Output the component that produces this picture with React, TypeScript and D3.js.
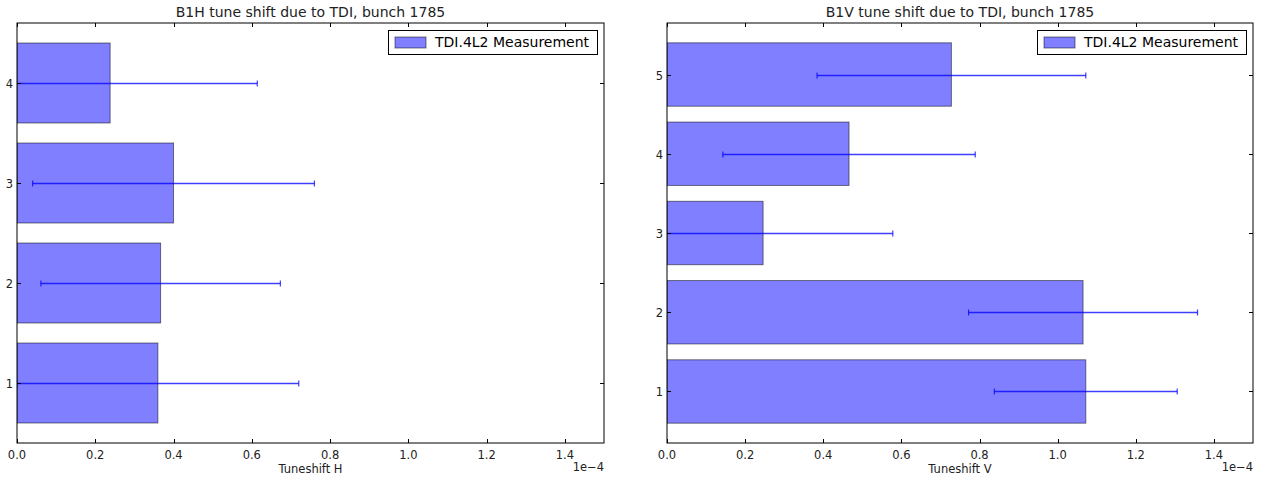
import React, { useEffect, useRef } from 'react'
import * as d3 from 'd3'

// values in units of 1e-4
const hBunches = [1, 2, 3, 4]
const hValues = [0.36, 0.367, 0.40, 0.238]
const hErrors = [0.36, 0.306, 0.36, 0.376]

const vBunches = [1, 2, 3, 4, 5]
const vValues = [1.072, 1.065, 0.246, 0.466, 0.728]
const vErrors = [0.234, 0.293, 0.332, 0.323, 0.344]

const xTicks = [0, 0.2, 0.4, 0.6, 0.8, 1.0, 1.2, 1.4]

const panels = [
  { title: 'B1H tune shift due to TDI, bunch 1785', xlabel: 'Tuneshift H', bunches: hBunches, values: hValues, errors: hErrors, left: 17, right: 604, ydom: [0.4, 4.6] },
  { title: 'B1V tune shift due to TDI, bunch 1785', xlabel: 'Tuneshift V', bunches: vBunches, values: vValues, errors: vErrors, left: 667, right: 1253, ydom: [0.35, 5.65] },
]

const FONT = 'DejaVu Sans, sans-serif'

export default function App() {
  const ref = useRef<SVGSVGElement>(null)

  useEffect(() => {
    const svg = d3.select(ref.current)
    svg.selectAll('*').remove()
    const top = 23
    const bottom = 443

    panels.forEach((p, pi) => {
      const x = d3.scaleLinear().domain([0, 1.5]).range([p.left, p.right])
      const y = d3.scaleLinear().domain(p.ydom).range([bottom, top])
      const g = svg.append('g')
      const clipId = 'clip' + pi
      g.append('clipPath').attr('id', clipId).append('rect')
        .attr('x', p.left).attr('y', top).attr('width', p.right - p.left).attr('height', bottom - top)

      const plot = g.append('g').attr('clip-path', `url(#${clipId})`)

      // bars
      plot.selectAll('rect.bar')
        .data(p.bunches)
        .join('rect')
        .attr('class', 'bar')
        .attr('x', x(0))
        .attr('y', (d) => y(d + 0.4))
        .attr('width', (d, i) => x(p.values[i]) - x(0))
        .attr('height', (d) => y(d - 0.4) - y(d + 0.4))
        .attr('fill', '#0000ff')
        .attr('fill-opacity', 0.5)
        .attr('stroke', '#000')
        .attr('stroke-opacity', 0.5)
        .attr('stroke-width', 1)

      // error bars
      p.bunches.forEach((b, i) => {
        const lo = p.values[i] - p.errors[i]
        const hi = p.values[i] + p.errors[i]
        const cy = Math.round(y(b)) + 0.5
        plot.append('line')
          .attr('x1', x(lo)).attr('x2', x(hi)).attr('y1', cy).attr('y2', cy)
          .attr('stroke', '#0000ff').attr('stroke-opacity', 0.75).attr('stroke-width', 1.4)
        ;[lo, hi].forEach((v) => {
          plot.append('line')
            .attr('x1', x(v)).attr('x2', x(v)).attr('y1', cy - 3).attr('y2', cy + 3)
            .attr('stroke', '#0000ff').attr('stroke-opacity', 0.75).attr('stroke-width', 1.2)
        })
      })

      // frame
      g.append('rect')
        .attr('x', p.left).attr('y', top).attr('width', p.right - p.left).attr('height', bottom - top)
        .attr('fill', 'none').attr('stroke', '#000').attr('stroke-width', 1)

      // x ticks (inward, top and bottom)
      xTicks.forEach((t) => {
        const tx = Math.round(x(t)) + 0.5
        g.append('line').attr('x1', tx).attr('x2', tx).attr('y1', bottom).attr('y2', bottom - 4).attr('stroke', '#000')
        g.append('line').attr('x1', tx).attr('x2', tx).attr('y1', top).attr('y2', top + 4).attr('stroke', '#000')
        g.append('text')
          .attr('x', x(t)).attr('y', bottom + 16)
          .attr('text-anchor', 'middle')
          .attr('font-family', FONT).attr('font-size', 11.5).attr('fill', '#222')
          .text(d3.format('.1f')(t))
      })

      // y ticks
      p.bunches.forEach((b) => {
        const ty = Math.round(y(b)) + 0.5
        g.append('line').attr('x1', p.left).attr('x2', p.left + 4).attr('y1', ty).attr('y2', ty).attr('stroke', '#000')
        g.append('line').attr('x1', p.right).attr('x2', p.right - 4).attr('y1', ty).attr('y2', ty).attr('stroke', '#000')
        g.append('text')
          .attr('x', p.left - 4).attr('y', ty + 4)
          .attr('text-anchor', 'end')
          .attr('font-family', FONT).attr('font-size', 11.5).attr('fill', '#222')
          .text(b)
      })

      // title
      g.append('text')
        .attr('x', (p.left + p.right) / 2).attr('y', 17)
        .attr('text-anchor', 'middle')
        .attr('font-family', FONT).attr('font-size', 14).attr('fill', '#222')
        .text(p.title)

      // x label
      g.append('text')
        .attr('x', (p.left + p.right) / 2).attr('y', 473)
        .attr('text-anchor', 'middle')
        .attr('font-family', FONT).attr('font-size', 11.5).attr('fill', '#222')
        .text(p.xlabel)

      // offset text
      g.append('text')
        .attr('x', p.right).attr('y', 471)
        .attr('text-anchor', 'end')
        .attr('font-family', FONT).attr('font-size', 11.5).attr('fill', '#222')
        .text('1e\u22124')

      // legend
      const lw = 209
      const lx = p.right - 7 - lw
      const ly = 30
      g.append('rect').attr('x', lx + 0.5).attr('y', ly + 0.5).attr('width', lw).attr('height', 24)
        .attr('fill', '#fff').attr('stroke', '#000').attr('stroke-width', 1)
      g.append('rect').attr('x', lx + 7).attr('y', ly + 7).attr('width', 31).attr('height', 11)
        .attr('fill', '#0000ff').attr('fill-opacity', 0.5).attr('stroke', '#000').attr('stroke-opacity', 0.5)
      g.append('text')
        .attr('x', lx + 47).attr('y', ly + 17)
        .attr('font-family', FONT).attr('font-size', 14).attr('fill', '#000')
        .text('TDI.4L2 Measurement')
    })
  }, [])

  return (
    <div style={{ position: 'absolute', left: 0, top: 0 }}>
      <svg ref={ref} width={1272} height={480} style={{ display: 'block', background: '#fff' }} />
    </div>
  )
}
